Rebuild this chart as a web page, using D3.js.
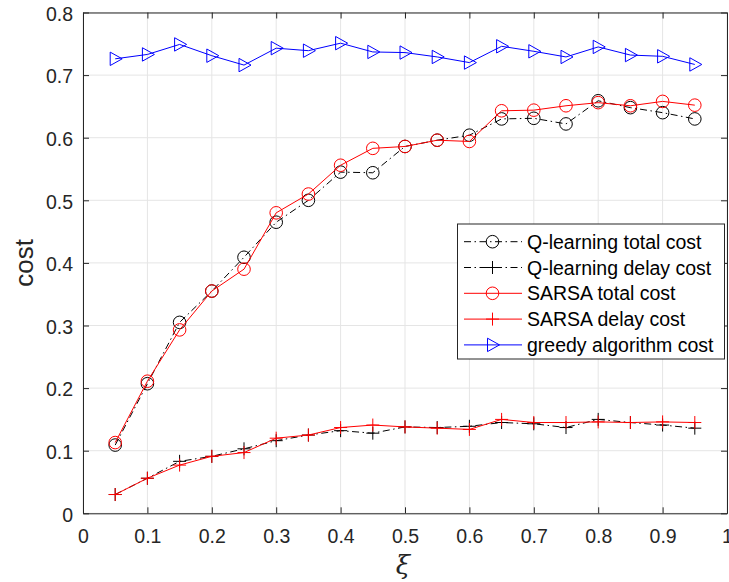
<!DOCTYPE html>
<html><head><meta charset="utf-8">
<script src="https://cdn.jsdelivr.net/npm/d3@7"></script>
<style>
html,body{margin:0;padding:0;background:#fff;}
svg{display:block;font-family:"Liberation Sans",Arial,Helvetica,sans-serif;}
</style></head>
<body><svg id="c" width="729" height="582"></svg>
<script>
const xi = [0.05,0.10,0.15,0.20,0.25,0.30,0.35,0.40,0.45,0.50,0.55,0.60,0.65,0.70,0.75,0.80,0.85,0.90,0.95];
const qTotal = [0.109,0.207,0.305,0.355,0.409,0.465,0.500,0.545,0.544,0.586,0.596,0.604,0.630,0.631,0.622,0.659,0.648,0.640,0.630];
const qDelay = [0.030,0.056,0.083,0.091,0.103,0.116,0.125,0.132,0.128,0.138,0.137,0.139,0.145,0.143,0.137,0.150,0.145,0.141,0.136];
const sTotal = [0.113,0.211,0.293,0.355,0.390,0.480,0.510,0.556,0.583,0.586,0.596,0.594,0.643,0.644,0.651,0.656,0.651,0.658,0.652];
const sDelay = [0.030,0.056,0.077,0.091,0.097,0.120,0.125,0.137,0.141,0.138,0.136,0.134,0.150,0.145,0.145,0.146,0.145,0.146,0.145];
const greedy = [0.726,0.733,0.749,0.731,0.716,0.743,0.739,0.751,0.737,0.736,0.729,0.720,0.746,0.738,0.729,0.745,0.732,0.730,0.717];
const xTicks = [0,0.1,0.2,0.3,0.4,0.5,0.6,0.7,0.8,0.9,1];
const yTicks = [0,0.1,0.2,0.3,0.4,0.5,0.6,0.7,0.8];
const seriesNames = ["Q-learning total cost","Q-learning delay cost","SARSA total cost","SARSA delay cost","greedy algorithm cost"];

const L=83, R=727, T=12.5, B=513.3;
const svg = d3.select("#c");
const x = d3.scaleLinear().domain([0,1]).range([L,R]);
const y = d3.scaleLinear().domain([0,0.8]).range([B,T]);
const axisCol="#262626";

// grid
const g = svg.append("g");
g.selectAll(".gx").data(xTicks).enter().append("line")
 .attr("x1",d=>x(d)).attr("x2",d=>x(d)).attr("y1",T).attr("y2",B)
 .attr("stroke","#e5e5e5").attr("stroke-width",1);
g.selectAll(".gy").data(yTicks).enter().append("line")
 .attr("y1",d=>y(d)).attr("y2",d=>y(d)).attr("x1",L).attr("x2",R)
 .attr("stroke","#e5e5e5").attr("stroke-width",1);

// axes
const fmt = d=>d===0?"0":(d===1?"1":d3.format(".1f")(d));
const ax = svg.append("g").attr("transform",`translate(0,${B})`)
 .call(d3.axisBottom(x).tickValues(xTicks).tickFormat(fmt).tickSizeInner(-6).tickSizeOuter(0).tickPadding(16));
const axT = svg.append("g").attr("transform",`translate(0,${T})`)
 .call(d3.axisTop(x).tickValues(xTicks).tickFormat("").tickSizeInner(-6).tickSizeOuter(0));
const ay = svg.append("g").attr("transform",`translate(${L},0)`)
 .call(d3.axisLeft(y).tickValues(yTicks).tickFormat(fmt).tickSizeInner(-6).tickSizeOuter(0).tickPadding(10));
const ayR = svg.append("g").attr("transform",`translate(${R},0)`)
 .call(d3.axisRight(y).tickValues(yTicks).tickFormat("").tickSizeInner(-6).tickSizeOuter(0));
[ax,axT,ay,ayR].forEach(a=>{
  a.selectAll("path").attr("stroke",axisCol).attr("stroke-width",1);
  a.selectAll("line").attr("stroke",axisCol).attr("stroke-width",1);
  a.selectAll("text").attr("fill",axisCol).style("font-size","19.5px").style("font-family","Liberation Sans, Arial, sans-serif");
});
ay.selectAll("text").attr("dy","0.4em");

// labels
svg.append("text").attr("transform",`translate(33,${(T+B)/2}) rotate(-90)`)
 .attr("text-anchor","middle").attr("fill",axisCol).style("font-size","26px").text("cost");
svg.append("text").attr("x",(L+R)/2-2).attr("y",574).attr("text-anchor","middle")
 .attr("fill",axisCol).style("font-size","26px").style("font-style","italic")
 .style("font-family","DejaVu Serif, Liberation Serif, serif").text("ξ");

const dashDot = "7,3.5,1.5,3.5";
const line = d3.line().x((d,i)=>x(xi[i])).y(d=>y(d));
const series = [
 {v:qTotal,c:"#000",dash:dashDot,m:"o"},
 {v:qDelay,c:"#000",dash:dashDot,m:"+"},
 {v:sTotal,c:"#ff0000",dash:null,m:"o"},
 {v:sDelay,c:"#ff0000",dash:null,m:"+"},
 {v:greedy,c:"#0000ff",dash:null,m:">"}
];
function marker(sel,m,c,cx,cy){
  if(m==="o"){
    sel.append("circle").attr("cx",cx).attr("cy",cy).attr("r",6.3).attr("fill","none").attr("stroke",c).attr("stroke-width",1);
  } else if(m==="+"){
    sel.append("path").attr("d",`M${cx-6.5},${cy}H${cx+6.5}M${cx},${cy-6.5}V${cy+6.5}`).attr("stroke",c).attr("stroke-width",1).attr("fill","none");
  } else {
    sel.append("path").attr("d",`M${cx-5},${cy-6.7}L${cx+7},${cy}L${cx-5},${cy+6.7}Z`).attr("stroke",c).attr("stroke-width",1).attr("fill","none");
  }
}
const plot = svg.append("g");
series.forEach(s=>{
  const p = plot.append("path").attr("d",line(s.v)).attr("fill","none").attr("stroke",s.c).attr("stroke-width",1);
  if(s.dash) p.attr("stroke-dasharray",s.dash);
  s.v.forEach((d,i)=>marker(plot,s.m,s.c,x(xi[i]),y(d)));
});

// legend
const lg = svg.append("g");
const lx=457.5, ly=224, lw=267, lh=135;
lg.append("rect").attr("x",lx).attr("y",ly).attr("width",lw).attr("height",lh).attr("fill","#fff").attr("stroke",axisCol).attr("stroke-width",1);
seriesNames.forEach((n,i)=>{
  const s=series[i];
  const cy = 241.7 + i*25.8;
  const l = lg.append("line").attr("x1",464).attr("x2",522).attr("y1",cy).attr("y2",cy).attr("stroke",s.c).attr("stroke-width",1);
  if(s.dash) l.attr("stroke-dasharray",s.dash);
  marker(lg,s.m,s.c,492.5,cy);
  lg.append("text").attr("x",527).attr("y",cy).attr("dy","0.36em").attr("fill","#000").style("font-size","19.5px").text(n);
});
</script></body></html>
